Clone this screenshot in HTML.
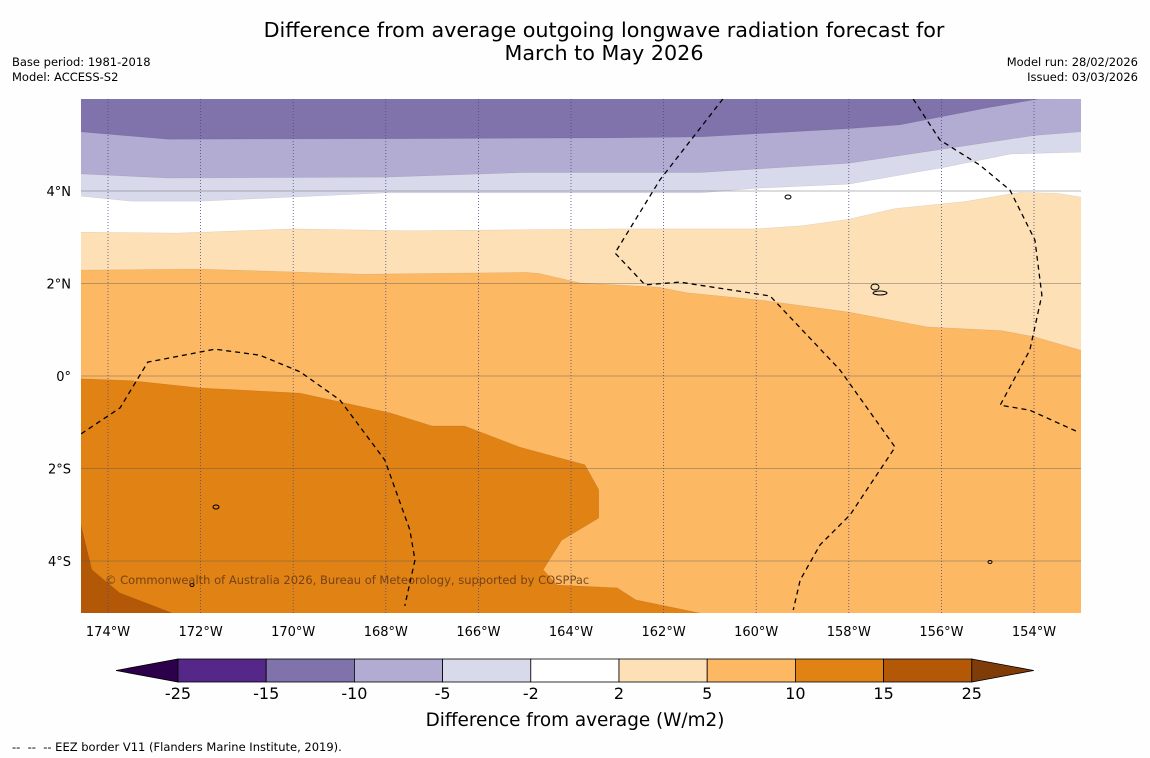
<!DOCTYPE html>
<html><head><meta charset="utf-8">
<style>
html,body{margin:0;padding:0;background:#fefefe;}
body{width:1150px;height:758px;position:relative;overflow:hidden;font-family:"DejaVu Sans","Liberation Sans",sans-serif;}
.t{position:absolute;color:#000;}
</style></head>
<body>
<div class="t" style="left:0;width:1208px;top:19px;text-align:center;font-size:20.7px;line-height:23px;">Difference from average outgoing longwave radiation forecast for<br>March to May 2026</div>
<div class="t" style="left:12px;top:55px;font-size:11.5px;line-height:15px;">Base period: 1981-2018<br>Model: ACCESS-S2</div>
<div class="t" style="right:12px;top:55px;font-size:11.5px;line-height:15px;text-align:right;">Model run: 28/02/2026<br>Issued: 03/03/2026</div>
<div class="t" style="left:12px;top:740px;font-size:11.5px;white-space:pre;">--  --  -- EEZ border V11 (Flanders Marine Institute, 2019).</div>
<svg id="map" width="1150" height="758" style="position:absolute;left:0;top:0;font-family:'DejaVu Sans','Liberation Sans',sans-serif;"></svg>
<script>
const lonTicks=[-174,-172,-170,-168,-166,-164,-162,-160,-158,-156,-154];
const latTicks=[4,2,0,-2,-4];
const latLabels=["4°N","2°N","0°","2°S","4°S"];
const levelColors=["#8073ac","#b2abd2","#d8daeb","#ffffff","#fee0b6","#fdb863","#e08214","#b35806"];
const bA=[[-174.6,5.28],[-172.7,5.12],[-167.7,5.13],[-163,5.15],[-161.2,5.17],[-158,5.35],[-156.9,5.43],[-155,5.8],[-153.9,5.99],[-153,6.0]];
const bB=[[-174.6,4.37],[-172.7,4.28],[-168,4.3],[-165,4.4],[-161.2,4.4],[-158,4.6],[-156,4.9],[-154,5.2],[-153,5.28]];
const bC=[[-174.6,3.89],[-173.5,3.78],[-172,3.78],[-168,3.96],[-161.2,3.96],[-160,4.06],[-158,4.15],[-156,4.5],[-154.5,4.8],[-153,4.84]];
const bD=[[-174.6,3.11],[-172.5,3.09],[-170,3.18],[-167.5,3.14],[-163,3.18],[-160,3.18],[-159,3.25],[-158,3.39],[-157,3.62],[-155.5,3.77],[-154.3,3.97],[-153.5,3.95],[-153,3.87]];
const bE=[[-174.6,2.29],[-172,2.31],[-170,2.25],[-168.5,2.2],[-165,2.24],[-164.7,2.22],[-163.8,2.01],[-162.1,1.92],[-161.5,1.8],[-159.9,1.64],[-158,1.38],[-156.3,1.06],[-154.7,0.98],[-154,0.85],[-153,0.56]];
const bF=[[-174.6,-0.06],[-173.5,-0.1],[-172,-0.26],[-169.85,-0.37],[-167.9,-0.8],[-167,-1.08],[-166.3,-1.08],[-165.1,-1.54],[-163.7,-1.92],[-163.4,-2.46],[-163.4,-3.07],[-164.2,-3.55],[-164.6,-4.19],[-164.3,-4.52],[-163,-4.58],[-162.6,-4.84],[-161.1,-5.15]];
const bG=[[-174.6,-3.16],[-174.35,-4.19],[-173.75,-4.69],[-172.55,-5.15]];
const eez1=[[-174.58,-1.25],[-173.74,-0.69],[-173.14,0.3],[-171.69,0.58],[-170.72,0.45],[-169.85,0.09],[-168.99,-0.52],[-168.02,-1.82],[-167.48,-3.33],[-167.37,-3.98],[-167.59,-4.97]];
const eez2=[[-160.72,5.99],[-162.08,4.24],[-163.05,2.66],[-162.4,1.97],[-161.65,2.03],[-159.7,1.73],[-158.19,0.13],[-157,-1.54],[-157.97,-3.0],[-158.62,-3.65],[-159.05,-4.41],[-159.2,-5.06]];
const eez3=[[-156.61,5.99],[-156.03,5.1],[-155.17,4.56],[-154.52,4.02],[-153.98,2.94],[-153.83,1.75],[-154.09,0.56],[-154.73,-0.63],[-154.09,-0.74],[-153.05,-1.21]];
const cbLabels=["-25","-15","-10","-5","-2","2","5","10","15","25"];
const cbColors=["#542788","#8073ac","#b2abd2","#d8daeb","#ffffff","#fee0b6","#fdb863","#e08214","#b35806"];

const NS="http://www.w3.org/2000/svg";
const svg=document.getElementById('map');
const X=lon=>108+(lon+174)*46.3;
const Y=lat=>376-lat*46.25;
const PX0=81,PX1=1081,PY0=99,PY1=613;
function el(tag,attrs,parent){const e=document.createElementNS(NS,tag);for(const k in attrs)e.setAttribute(k,attrs[k]);(parent||svg).appendChild(e);return e;}
const defs=el('defs',{});
const cp=el('clipPath',{id:'pc'},defs);
el('rect',{x:PX0,y:PY0,width:PX1-PX0,height:PY1-PY0},cp);
const g=el('g',{'clip-path':'url(#pc)'});
const bg=el('rect',{x:PX0,y:PY0,width:PX1-PX0,height:PY1-PY0,fill:levelColors[0]},g);


const bounds=[bA,bB,bC,bD,bE,bF,bG];
const names=['region-minus10-to-minus5','region-minus5-to-minus2','region-minus2-to-2','region-2-to-5','region-5-to-10','region-10-to-15','region-15-to-25'];
bounds.forEach((b,i)=>{
  let pts=b.map(p=>X(p[0])+','+Y(p[1]));
  const last=b[b.length-1];
  if(last[1]>-5.1){pts.push((PX1+20)+','+Y(last[1]));pts.push((PX1+20)+','+(PY1+20));}
  else pts.push(X(last[0])+','+(PY1+20));
  pts.push((PX0-20)+','+(PY1+20));
  pts.push((PX0-20)+','+Y(b[0][1]));
  const p=el('polygon',{points:pts.join(' '),fill:levelColors[i+1],stroke:'rgba(0,0,0,0.12)','stroke-width':0.5},g);
  
  
});
lonTicks.forEach(l=>{
  const ln=el('line',{x1:X(l),x2:X(l),y1:PY0,y2:PY1,stroke:'#4a4a8a','stroke-width':0.8,'stroke-dasharray':'1,2'},g);
  
  
  const t=el('text',{x:X(l),y:636,'text-anchor':'middle','font-size':13},svg);
  t.textContent=Math.abs(l)+'°W';
  
  
});
latTicks.forEach((l,i)=>{
  const ln=el('line',{x1:PX0,x2:PX1,y1:Y(l),y2:Y(l),stroke:'rgba(90,90,90,0.55)','stroke-width':0.8},g);
  
  
  const t=el('text',{x:71,y:Y(l)+5,'text-anchor':'end','font-size':13},svg);
  t.textContent=latLabels[i];
  
  
});
[eez1,eez2,eez3].forEach(b=>{
  const p=el('polyline',{points:b.map(q=>X(q[0])+','+Y(q[1])).join(' '),fill:'none',stroke:'#000','stroke-width':1.3,'stroke-dasharray':'5,4'},g);
  
  
});
[[788,197,3,2],[875,287,4,3],[880,293,7,2],[216,507,3,2],[192,585,2,1.5],[990,562,2,1.5]].forEach(s=>{
  const e=el('ellipse',{cx:s[0],cy:s[1],rx:s[2],ry:s[3],fill:'none',stroke:'#000','stroke-width':1},g);
  
  
});
const cr=el('text',{x:105,y:584,'font-size':11.5,fill:'rgba(90,50,20,0.8)'},g);
cr.textContent='© Commonwealth of Australia 2026, Bureau of Meteorology, supported by COSPPac';


const cb=el('g',{});


const cx0=178,cw=88.2,cy=659,ch=23;
el('polygon',{points:`116,${cy+ch/2} ${cx0},${cy} ${cx0},${cy+ch}`,fill:'#2d004b',stroke:'#000','stroke-width':0.8},cb);
cbColors.forEach((c,i)=>{
  const r=el('rect',{x:cx0+i*cw,y:cy,width:cw,height:ch,fill:c,stroke:'#000','stroke-width':0.8},cb);
  
  
});
const ce=cx0+cbColors.length*cw;
el('polygon',{points:`${ce},${cy} ${ce+62},${cy+ch/2} ${ce},${cy+ch}`,fill:'#7f3b08',stroke:'#000','stroke-width':0.8},cb);
cbLabels.forEach((l,i)=>{
  const t=el('text',{x:cx0+i*cw,y:699,'text-anchor':'middle','font-size':16},cb);
  t.textContent=l;
  
  
});
const ct=el('text',{x:575,y:726,'text-anchor':'middle','font-size':18.4},svg);
ct.textContent='Difference from average (W/m2)';


</script>
</body></html>
